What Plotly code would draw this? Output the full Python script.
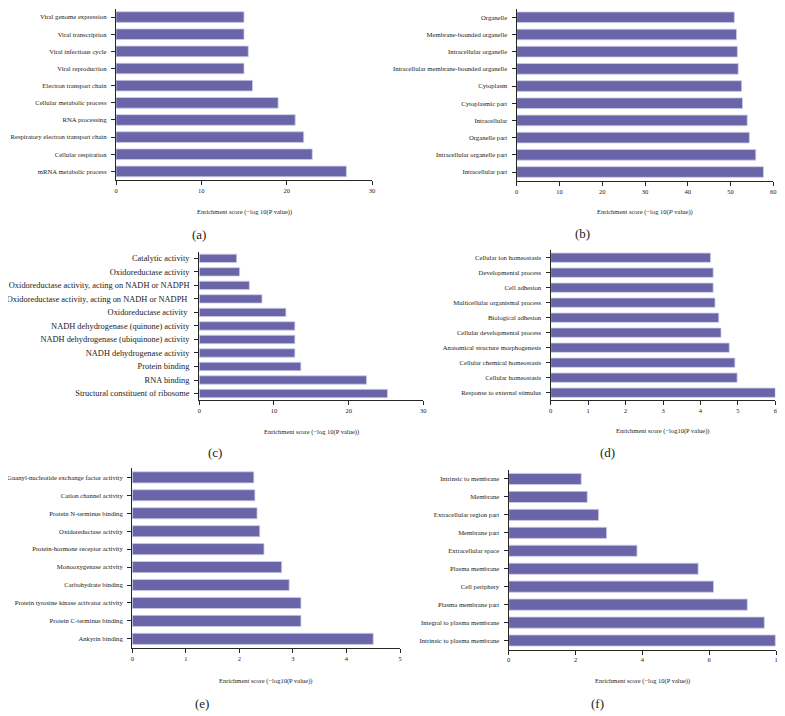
import plotly.graph_objects as go

# The page places the figure 8 px in from the window's top-left corner,
# so the figure is sized to the remaining window and every window-pixel
# position below is shifted by OFF.
WIN_W, WIN_H = 785, 716
OFF = 8
W, H = WIN_W - OFF, WIN_H - OFF

# ---- data (top-to-bottom order) ----
a_labels = ["Viral genome expression", "Viral transcription", "Viral infectious cycle",
            "Viral reproduction", "Electron transport chain", "Cellular metabolic process",
            "RNA processing", "Respiratory electron transport chain", "Cellular respiration",
            "mRNA metabolic process"]
a_values = [15.0, 15.0, 15.5, 15.0, 16.0, 19.0, 21.0, 22.0, 23.0, 27.0]

b_labels = ["Organelle", "Membrane-bounded organelle", "Intracellular organelle",
            "Intracellular membrane-bounded organelle", "Cytoplasm", "Cytoplasmic part",
            "Intracellular", "Organelle part", "Intracellular organelle part", "Intracellular part"]
b_values = [50.9, 51.4, 51.6, 51.8, 52.6, 52.8, 53.9, 54.4, 55.9, 57.7]

c_labels = ["Catalytic activity", "Oxidoreductase activity",
            "Oxidoreductase activity, acting on NADH or NADPH",
            "Oxidoreductase activity, acting on NADH or NADPH ",
            "Oxidoreductase activity ", "NADH dehydrogenase (quinone) activity",
            "NADH dehydrogenase (ubiquinone) activity", "NADH dehydrogenase activity",
            "Protein binding", "RNA binding", "Structural constituent of ribosome"]
c_values = [5.0, 5.4, 6.7, 8.4, 11.6, 12.8, 12.8, 12.8, 13.6, 22.4, 25.2]

d_labels = ["Cellular ion homeostasis", "Developmental process", "Cell adhesion",
            "Multicellular organismal process", "Biological adhesion",
            "Cellular developmental process", "Anatomical structure morphogenesis",
            "Cellular chemical homeostasis", "Cellular homeostasis", "Response to external stimulus"]
d_values = [4.27, 4.34, 4.34, 4.39, 4.49, 4.55, 4.77, 4.92, 4.98, 6.0]

e_labels = ["Guanyl-nucleotide exchange factor activity", "Cation channel activity",
            "Protein N-terminus binding", "Oxidoreductase activity",
            "Protein-hormone receptor activity", "Monooxygenase activity",
            "Carbohydrate binding", "Protein tyrosine kinase activator activity",
            "Protein C-terminus binding", "Ankyrin binding"]
e_values = [2.27, 2.29, 2.33, 2.38, 2.46, 2.79, 2.93, 3.15, 3.15, 4.50]

f_labels = ["Intrinsic to membrane", "Membrane", "Extracellular region part", "Membrane part",
            "Extracellular space", "Plasma membrane", "Cell periphery", "Plasma membrane part",
            "Integral to plasma membrane", "Intrinsic to plasma membrane"]
f_values = [2.17, 2.35, 2.69, 2.93, 3.84, 5.67, 6.13, 7.14, 7.65, 7.98]

a_ticks = [0, 10, 20, 30]
b_ticks = [0, 10, 20, 30, 40, 50, 60]
c_ticks = [0, 10, 20, 30]
d_ticks = [0, 1, 2, 3, 4, 5, 6]
e_ticks = [0, 1, 2, 3, 4, 5]
f_ticks = [0, 2, 4, 6, 8]
f_ticktext = ["0", "2", "4", "6", "1"]

titles = ["Enrichment score (\u2212log 10(P value))",
          "Enrichment score (\u2212log 10(<i>P</i> value))",
          "Enrichment score (\u2212log 10(P value))",
          "Enrichment score (\u2212log10(P value))",
          "Enrichment score (\u2212log10(P value))",
          "Enrichment score (\u2212log 10(P value))"]
panel_names = ["(a)", "(b)", "(c)", "(d)", "(e)", "(f)"]

# ---- layout geometry (window pixels) ----
panels = [
    (a_labels, a_values, a_ticks, None, 116.0, 372.0, 8.5, 180.0, 30, 6.7, 212, 199, 234),
    (b_labels, b_values, b_ticks, None, 516.7, 773.3, 8.7, 180.6, 60, 6.7, 212, 582, 233),
    (c_labels, c_values, c_ticks, None, 199.3, 423.3, 251.6, 400.3, 30, 8.4, 432, 215, 453),
    (d_labels, d_values, d_ticks, None, 550.7, 775.3, 250.2, 400.2, 6, 6.7, 431, 607, 452),
    (e_labels, e_values, e_ticks, None, 132.3, 400.0, 468.4, 647.8, 5, 6.7, 681, 202, 703),
    (f_labels, f_values, f_ticks, f_ticktext, 508.7, 776.0, 470.0, 649.5, 8, 6.7, 681, 597, 703),
]


def fx(px):
    return (px - OFF) / W


def fy(py):
    return 1 - (py - OFF) / H


FONT = "Liberation Serif"
BAR = "#6965a8"
AX = "#262626"

fig = go.Figure()
annotations = []
for i, (labels, values, ticks, ticktext, x0, x1, yt, yb, xmax, lfs, ty, px, py) in enumerate(panels):
    n = i + 1
    xa = "x" if n == 1 else f"x{n}"
    ya = "y" if n == 1 else f"y{n}"
    fig.add_trace(go.Bar(
        x=values, y=labels, orientation="h", xaxis=xa, yaxis=ya,
        marker=dict(color=BAR, line=dict(color="#cfcde6", width=0.8)),
        width=0.62, hoverinfo="x+y",
    ))
    xkey = "xaxis" if n == 1 else f"xaxis{n}"
    ykey = "yaxis" if n == 1 else f"yaxis{n}"
    fig.layout[xkey] = dict(
        domain=[fx(x0), fx(x1)], anchor=ya, range=[0, xmax], automargin=False,
        tickvals=ticks, ticktext=ticktext if ticktext else [str(t) for t in ticks],
        showline=True, linecolor=AX, linewidth=1.3, ticks="outside", ticklen=4,
        tickwidth=1.2, tickcolor=AX, showgrid=False, zeroline=False,
        tickfont=dict(family=FONT, size=6.5, color="#222"), fixedrange=True,
    )
    fig.layout[ykey] = dict(
        domain=[fy(yb), fy(yt)], anchor=xa, automargin=False,
        range=[len(labels) - 0.5, -0.5], type="category",
        showline=True, linecolor=AX, linewidth=1.3, ticks="outside", ticklen=4,
        tickwidth=1.2, tickcolor=AX, showgrid=False, zeroline=False,
        tickfont=dict(family=FONT, size=lfs, color="#222"), ticklabelstandoff=3,
        fixedrange=True,
    )
    annotations.append(dict(
        x=fx((x0 + x1) / 2), y=fy(ty), xref="paper", yref="paper",
        text=titles[i], showarrow=False, xanchor="center", yanchor="middle",
        font=dict(family=FONT, size=6.5, color="#222"),
    ))
    annotations.append(dict(
        x=fx(px), y=fy(py), xref="paper", yref="paper",
        text=panel_names[i], showarrow=False, xanchor="center", yanchor="middle",
        font=dict(family=FONT, size=13, color="#222"),
    ))

fig.update_layout(
    width=W, height=H, margin=dict(l=0, r=0, t=0, b=0, autoexpand=False),
    paper_bgcolor="white", plot_bgcolor="white", showlegend=False,
    annotations=annotations, bargap=0.38,
)

fig.write_html("out.html")
